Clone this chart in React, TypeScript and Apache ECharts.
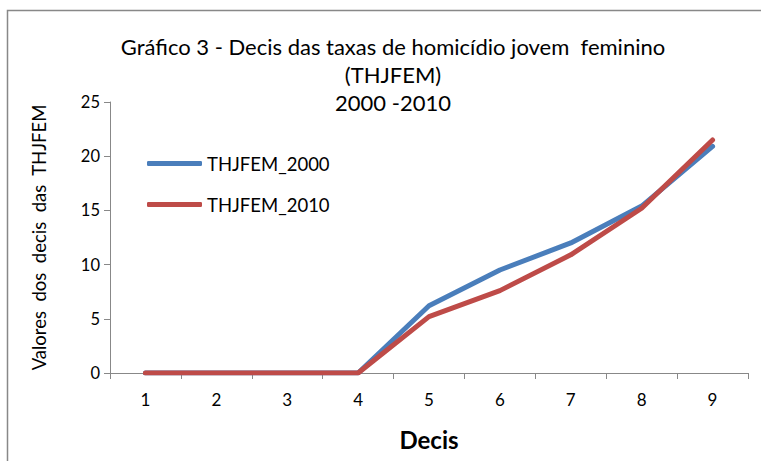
import React, { useEffect, useRef } from "react";
import * as echarts from "echarts";

const categories = ["1", "2", "3", "4", "5", "6", "7", "8", "9"];
const thjfem2000 = [0, 0, 0, 0, 6.2, 9.5, 12.0, 15.4, 20.9];
const thjfem2010 = [0, 0, 0, 0, 5.2, 7.6, 10.9, 15.2, 21.5];
const titleLines = ["Gráfico 3 - Decis das taxas de homicídio jovem  feminino", "(THJFEM)", "2000 -2010"];
const FONT = "Lato, 'Open Sans', sans-serif";

export default function App() {
  const ref = useRef<HTMLDivElement>(null);
  useEffect(() => {
    const chart = echarts.init(ref.current!, null, { renderer: "svg" });
    chart.setOption({
      animation: false,
      backgroundColor: "#ffffff",
      textStyle: { fontFamily: FONT },
      title: {
        text: titleLines.join("\n"),
        left: 388,
        textAlign: "center",
        top: 27,
        textStyle: { fontSize: 22, fontWeight: "normal", color: "#000", lineHeight: 28, fontFamily: FONT },
      },
      graphic: [
        {
          type: "rect",
          shape: { x: 7.5, y: 10.5, width: 800, height: 500 },
          style: { fill: "none", stroke: "#888", lineWidth: 1.5 },
          silent: true,
        },
      ],
      legend: {
        orient: "vertical",
        left: 142,
        top: 149,
        itemWidth: 55,
        itemHeight: 5,
        itemGap: 22,
        icon: "roundRect",
        textStyle: { fontSize: 18.5, color: "#000", fontFamily: FONT },
        data: ["THJFEM_2000", "THJFEM_2010"],
      },
      grid: { left: 110, right: 13, top: 102, bottom: 88, containLabel: false },
      xAxis: {
        type: "category",
        data: categories,
        boundaryGap: true,
        name: "Decis",
        nameLocation: "middle",
        nameGap: 54,
        nameTextStyle: { fontSize: 24, fontWeight: "bold", color: "#000", fontFamily: FONT },
        axisLine: { lineStyle: { color: "#888", width: 1 } },
        axisTick: { show: true, length: 6, lineStyle: { color: "#888" } },
        axisLabel: { fontSize: 17, color: "#000", margin: 18, fontFamily: FONT },
      },
      yAxis: {
        type: "value",
        min: 0,
        max: 25,
        interval: 5,
        name: "Valores  dos  decis  das  THJFEM",
        nameLocation: "middle",
        nameGap: 62,
        nameTextStyle: { fontSize: 18.5, color: "#000", fontFamily: FONT },
        axisLine: { show: true, lineStyle: { color: "#888", width: 1 } },
        axisTick: { show: true, length: 6, lineStyle: { color: "#888" } },
        axisLabel: { fontSize: 16.5, color: "#000", margin: 10, fontFamily: FONT },
        splitLine: { show: false },
      },
      series: [
        {
          name: "THJFEM_2000",
          type: "line",
          data: thjfem2000,
          showSymbol: false,
          symbol: "none",
          lineStyle: { width: 5, color: "#4a7ebb", cap: "round" },
          itemStyle: { color: "#4a7ebb" },
        },
        {
          name: "THJFEM_2010",
          type: "line",
          data: thjfem2010,
          showSymbol: false,
          symbol: "none",
          lineStyle: { width: 5, color: "#be4b48", cap: "round" },
          itemStyle: { color: "#be4b48" },
        },
      ],
    });
    return () => chart.dispose();
  }, []);
  return <div ref={ref} style={{ width: 761, height: 461, position: "absolute", left: 0, top: 0 }} />;
}
